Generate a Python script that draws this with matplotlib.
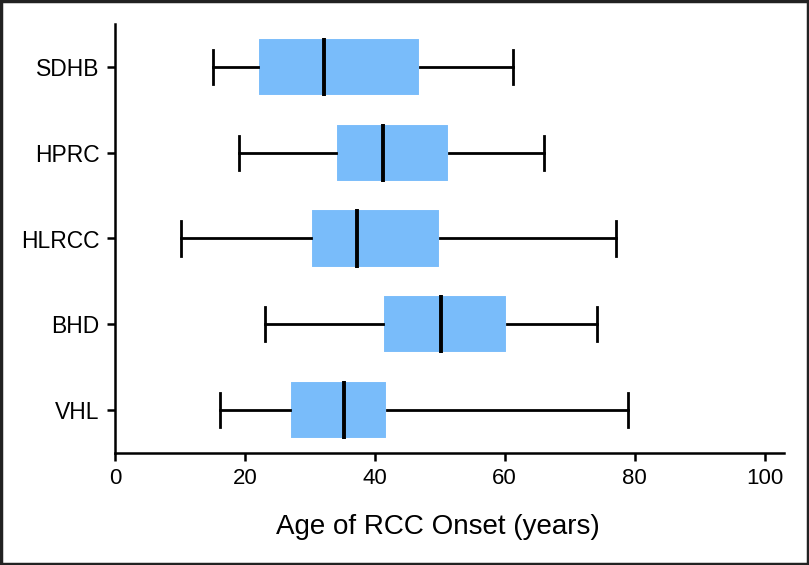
import matplotlib
matplotlib.use("Agg")
import matplotlib.pyplot as plt
from matplotlib.patches import Rectangle

categories = ["VHL", "BHD", "HLRCC", "HPRC", "SDHB"]
whisker_low = [16.1, 23.1, 10.2, 19.1, 15.1]
q1 = [26.9, 41.2, 30.2, 34.1, 22.0]
median = [35.3, 50.2, 37.2, 41.3, 32.2]
q3 = [41.9, 60.3, 50.1, 51.4, 47.0]
whisker_high = [79.0, 74.2, 77.2, 66.1, 61.2]
xticks = [0, 20, 40, 60, 80, 100]
xlabel = "Age of RCC Onset (years)"

plt.rcParams['font.family'] = ['Liberation Sans', 'DejaVu Sans']

fig = plt.figure(figsize=(8.09, 5.65), dpi=100)
ax = fig.add_axes([115/809, 1-453/565, (784-115)/809, (453-24)/565])

stats = []
for i, c in enumerate(categories):
    stats.append(dict(label=c, whislo=whisker_low[i], q1=q1[i], med=median[i],
                      q3=q3[i], whishi=whisker_high[i], fliers=[]))

positions = list(range(1, len(categories) + 1))
ax.bxp(stats, positions=positions, vert=False, widths=0.68, patch_artist=True,
       showfliers=False, capwidths=0.4,
       boxprops=dict(facecolor='#79bcfa', edgecolor='white', linewidth=1.5),
       medianprops=dict(color='black', linewidth=2.8, solid_capstyle='butt'),
       whiskerprops=dict(color='black', linewidth=2.0),
       capprops=dict(color='black', linewidth=2.0))

ax.set_xlim(0, 103)
ax.set_ylim(0.5, 5.5)
ax.set_xticks(xticks)
ax.set_xticklabels([str(t) for t in xticks], fontsize=16)
ax.set_yticks(positions)
ax.set_yticklabels(categories, fontsize=16.5)
for s in ['top', 'right']:
    ax.spines[s].set_visible(False)
for s in ['left', 'bottom']:
    ax.spines[s].set_linewidth(1.8)
ax.tick_params(axis='both', direction='out', length=6, width=1.8, pad=5)

fig.text(438/809, 1-534/565, xlabel, ha='center', va='baseline', fontsize=20,
         family=['Liberation Sans Narrow', 'Liberation Sans', 'DejaVu Sans'])

fig.patches.append(Rectangle((0.001, 0.001), 0.998, 0.998, transform=fig.transFigure,
                             fill=False, edgecolor='#222222', linewidth=2.5))

fig.savefig("out.png", dpi=100)
